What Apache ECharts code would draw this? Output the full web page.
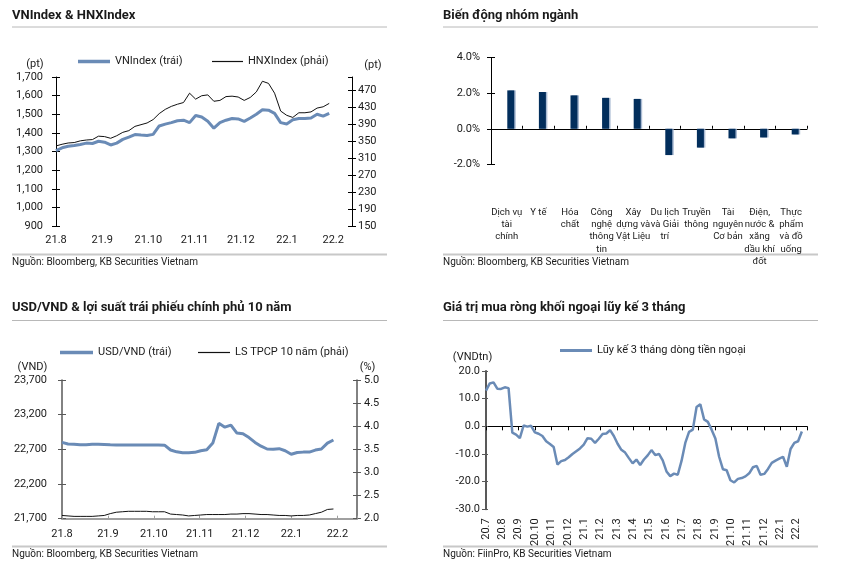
<!DOCTYPE html>
<html><head><meta charset="utf-8">
<script src="https://cdn.jsdelivr.net/npm/echarts@6/dist/echarts.min.js"></script>
<style>html,body{margin:0;padding:0;background:#fff}#c{width:845px;height:566px}</style>
</head><body><div id="c"></div>
<script>
// ---------- Panel 1: VNIndex & HNXIndex (samples every 4 days from 2021-08-01) ----------
const p1MonthLabels = ['21.8','21.9','21.10','21.11','21.12','22.1','22.2'];
const p1StepDays = 4;
const vnIndex = [1305,1320,1328,1332,1338,1345,1343,1355,1350,1335,1345,1365,1377,1391,1388,1386,1392,1437,1447,1455,1465,1468,1455,1493,1485,1462,1425,1455,1468,1477,1475,1462,1480,1500,1524,1522,1505,1455,1448,1470,1477,1477,1480,1500,1490,1505];
const hnxIndex = [338,342,345,346,350,352,353,361,360,356,362,370,374,384,388,392,400,414,424,431,436,440,462,448,456,458,443,445,454,455,453,445,452,465,490,485,462,420,410,405,416,416,418,427,430,438];

// ---------- Panel 2: sector change ----------
const sectors = ['Dịch vụ\ntài\nchính','Y tế','Hóa\nchất','Công\nnghệ\nthông\ntin','Xây\ndựng và\nVật Liệu','Du lịch\nvà Giải\ntrí','Truyền\nthông','Tài\nnguyên\nCơ bản','Điện,\nnước &\nxăng\ndầu khí\nđốt','Thực\nphẩm\nvà đồ\nuống'];
const sectorChange = [2.16,2.07,1.88,1.74,1.68,-1.48,-1.06,-0.54,-0.49,-0.32];

// ---------- Panel 3: USD/VND & 10Y bond yield (samples every 4 days from 2021-08-01) ----------
const p3MonthLabels = ['21.8','21.9','21.10','21.11','21.12','22.1','22.2'];
const p3StepDays = 4;
const usdVnd = [22800,22777,22772,22767,22765,22772,22772,22770,22765,22762,22762,22762,22762,22762,22762,22762,22762,22760,22690,22664,22652,22652,22657,22680,22695,22790,23075,23020,23050,22935,22925,22870,22800,22745,22705,22700,22710,22680,22630,22655,22660,22660,22690,22705,22790,22835];
const bondYield = [2.07,2.06,2.05,2.05,2.05,2.05,2.06,2.07,2.11,2.14,2.15,2.16,2.16,2.16,2.16,2.15,2.15,2.15,2.10,2.09,2.08,2.06,2.07,2.08,2.09,2.09,2.09,2.09,2.10,2.10,2.11,2.11,2.10,2.09,2.09,2.08,2.07,2.07,2.06,2.07,2.07,2.08,2.11,2.14,2.20,2.21];

// ---------- Panel 4: foreign net buy, 3-month cumulative (weekly from 2020-07-01) ----------
const p4MonthLabels = ['20.7','20.8','20.9','20.10','20.11','20.12','21.1','21.2','21.3','21.4','21.5','21.6','21.7','21.8','21.9','21.10','21.11','21.12','22.1','22.2'];
const p4StepDays = 7;
const foreignFlow = [12.9,15.5,15.9,13.6,13.5,14.1,13.8,-2.3,-3.0,-4.3,0.3,-0.1,0.2,-2.2,-2.7,-3.5,-5.4,-6.4,-7.5,-13.8,-12.6,-12.2,-11.2,-10.0,-9.0,-8.0,-6.6,-4.3,-4.5,-6.0,-4.5,-2.8,-2.6,-1.4,-3.5,-6.3,-8.5,-9.5,-11.5,-13.4,-12.0,-14.0,-12.0,-10.5,-8.6,-10.4,-10.0,-12.3,-16.3,-18.0,-17.1,-17.5,-12.5,-6.0,-2.0,-1.2,7.0,8.0,2.5,1.6,-1.2,-4.4,-11.0,-15.5,-15.9,-19.5,-20.3,-19.0,-18.7,-18.1,-17.0,-14.8,-14.3,-17.5,-17.2,-15.4,-13.2,-12.4,-11.7,-11.0,-14.6,-8.2,-6.0,-5.4,-1.9];

// ---------- helpers ----------
const FONT = 'Roboto, "Noto Sans", sans-serif';
const TXT = '#1a1a1a';
const BLUE = '#6a8bb6';
const DAYS_PER_MONTH = 30.4375;
const toXY = (arr, stepDays) => arr.map((v, i) => [i * stepDays / DAYS_PER_MONTH, v]);
const thousands = v => Math.round(v).toLocaleString('en-US');

function monthAxis(grid, labels, max, o) {
  return {
    type: 'value', gridIndex: grid, min: 0, max: max, interval: 1,
    splitLine: {show: false},
    axisLine: {show: o.line !== false, onZero: !!o.onZero, lineStyle: {color: o.lineColor || '#000', width: o.lineWidth || 1}},
    axisTick: {show: !!o.tick, inside: true, length: o.tickLen || 4, lineStyle: {color: o.lineColor || '#000', width: 1}},
    axisLabel: {
      show: o.label !== false, hideOverlap: false,
      margin: o.margin, rotate: o.rotate || 0, color: TXT, fontFamily: FONT, fontSize: 11,
      formatter: v => { const k = Math.round(v); return (Math.abs(v - k) < 1e-6 && labels[k] !== undefined) ? labels[k] : ''; }
    }
  };
}
function yAx(grid, pos, min, max, interval, fmt, o, ghost) {
  return {
    type: 'value', gridIndex: grid, position: pos, min: min, max: max, interval: interval,
    splitLine: {show: false},
    axisLine: {show: !ghost, onZero: false, lineStyle: {color: o.color || '#000', width: o.width || 1}},
    axisTick: {show: true, inside: !!ghost, length: o.tickLen || 4, lineStyle: {color: o.color || '#000', width: 1}},
    axisLabel: {show: !ghost, margin: o.margin, color: TXT, fontFamily: FONT, fontSize: 11, formatter: fmt, showMaxLabel: o.showMax !== false}
  };
}
function lg(name, left, top, w, h) {
  return {data: [name], left: left, top: top, padding: 0, icon: 'rect', itemWidth: w, itemHeight: h,
          itemStyle: {borderWidth: 0}, textStyle: {fontSize: 11, fontFamily: FONT, color: TXT}};
}

const p1Max = 296 / 46.2;
const p3Max = 295 / 45.9;
const p4Max = 321 / 16.35;

const chart = echarts.init(document.getElementById('c'), null, {renderer: 'canvas'});

const text = (x, y, t, o) => ({type: 'text', silent: true, style: {x: x, y: y, text: t, font: (o && o.font) || ('11px ' + FONT), fill: TXT, align: (o && o.align) || 'left', verticalAlign: 'middle', textAlign: (o && o.align) || 'left', textVerticalAlign: 'middle'}});
const rule = (x1, x2, y, w, c) => ({type: 'line', silent: true, shape: {x1: x1, y1: y, x2: x2, y2: y}, style: {stroke: c, lineWidth: w}});
const TITLE = 'bold 13px ' + FONT;
const SRC = '10px ' + FONT;

const option = {
  animation: false,
  backgroundColor: '#fff',
  textStyle: {fontFamily: FONT},
  grid: [
    {left: 56, top: 77, width: 296, height: 149, outerBoundsMode: 'none'},
    {left: 491, top: 57.7, width: 316, height: 106.6, outerBoundsMode: 'none'},
    {left: 62, top: 380, width: 295, height: 138.7, outerBoundsMode: 'none'},
    {left: 486, top: 371, width: 321, height: 138.3, outerBoundsMode: 'none'}
  ],
  legend: [
    lg('VNIndex (trái)', 78, 56, 32, 3.5),
    lg('HNXIndex (phải)', 212, 56, 31, 1.2),
    lg('USD/VND (trái)', 60, 347, 33, 3.5),
    lg('LS TPCP 10 năm (phải)', 198, 347, 32, 1.2),
    lg('Lũy kế 3 tháng dòng tiền ngoại', 560, 345, 32, 3)
  ],
  xAxis: [
    monthAxis(0, p1MonthLabels, p1Max, {line: false, tick: false, margin: 9}),
    {type: 'category', gridIndex: 1, data: sectors,
     axisLine: {onZero: true, lineStyle: {color: '#000', width: 1}},
     axisTick: {show: true, inside: true, length: 3, lineStyle: {color: '#000'}},
     axisLabel: {interval: 0, margin: 42, color: TXT, fontFamily: FONT, fontSize: 9.5, lineHeight: 12.3, verticalAlign: 'top'}},
    monthAxis(2, p3MonthLabels, p3Max, {lineColor: '#a0a0a0', lineWidth: 2, tick: true, tickLen: 3, margin: 10}),
    monthAxis(3, p4MonthLabels, p4Max, {line: false, tick: false, margin: 9, rotate: 90}),
    monthAxis(3, p4MonthLabels, p4Max, {onZero: true, tick: true, tickLen: 4, label: false})
  ],
  yAxis: [
    yAx(0, 'left', 900, 1700, 100, thousands, {margin: 13}),
    yAx(0, 'right', 150, 500, 40, v => String(v), {margin: 6, showMax: false}),
    yAx(0, 'left', 900, 1700, 100, thousands, {}, true),
    yAx(0, 'right', 150, 500, 40, v => String(v), {}, true),
    yAx(1, 'left', -2, 4, 2, v => v.toFixed(1) + '%', {margin: 11}),
    yAx(1, 'left', -2, 4, 2, v => v.toFixed(1) + '%', {}, true),
    yAx(2, 'left', 21700, 23700, 500, thousands, {margin: 15, color: '#595959', width: 1.5}),
    yAx(2, 'right', 2, 5, 0.5, v => v.toFixed(1), {margin: 7, color: '#595959', width: 1.5}),
    yAx(2, 'left', 21700, 23700, 500, thousands, {color: '#595959'}, true),
    yAx(2, 'right', 2, 5, 0.5, v => v.toFixed(1), {color: '#595959'}, true),
    yAx(3, 'left', -30, 20, 10, v => v.toFixed(1), {margin: 6, color: '#595959', width: 2}),
    yAx(3, 'left', -30, 20, 10, v => v.toFixed(1), {color: '#595959', tickLen: 2}, true)
  ],
  series: [
    {name: 'VNIndex (trái)', type: 'line', xAxisIndex: 0, yAxisIndex: 0, data: toXY(vnIndex, p1StepDays),
     symbol: 'none', lineStyle: {color: BLUE, width: 3}, itemStyle: {color: BLUE}, z: 2},
    {name: 'HNXIndex (phải)', type: 'line', xAxisIndex: 0, yAxisIndex: 1, data: toXY(hnxIndex, p1StepDays),
     symbol: 'none', lineStyle: {color: '#111', width: 1}, itemStyle: {color: '#111'}, z: 3},
    {name: '_spacer', type: 'bar', xAxisIndex: 1, yAxisIndex: 4, data: sectors.map(() => null), barWidth: 7, barGap: '14%'},
    {name: 'Biến động', type: 'bar', xAxisIndex: 1, yAxisIndex: 4, data: sectorChange, barWidth: 7, barGap: '14%',
     itemStyle: {color: '#022e5c', shadowColor: 'rgba(150,170,200,0.8)', shadowOffsetX: 1.5, shadowBlur: 0}},
    {name: 'USD/VND (trái)', type: 'line', xAxisIndex: 2, yAxisIndex: 6, data: toXY(usdVnd, p3StepDays),
     symbol: 'none', lineStyle: {color: BLUE, width: 3}, itemStyle: {color: BLUE}, z: 2},
    {name: 'LS TPCP 10 năm (phải)', type: 'line', xAxisIndex: 2, yAxisIndex: 7, data: toXY(bondYield, p3StepDays),
     symbol: 'none', lineStyle: {color: '#111', width: 1}, itemStyle: {color: '#111'}, z: 3},
    {name: 'Lũy kế 3 tháng dòng tiền ngoại', type: 'line', xAxisIndex: 3, yAxisIndex: 10, data: toXY(foreignFlow, p4StepDays),
     symbol: 'none', lineStyle: {color: BLUE, width: 2.5}, itemStyle: {color: BLUE}, z: 2}
  ],
  graphic: [
    text(12, 16, 'VNIndex & HNXIndex', {font: TITLE}),
    text(443, 16, 'Biến động nhóm ngành', {font: TITLE}),
    text(12, 308, 'USD/VND & lợi suất trái phiếu chính phủ 10 năm', {font: TITLE}),
    text(443, 308, 'Giá trị mua ròng khối ngoại lũy kế 3 tháng', {font: TITLE}),
    rule(12, 387, 27, 1, '#b8b8b8'),
    rule(443, 818, 27, 1, '#b8b8b8'),
    rule(12, 387, 320.5, 1, '#b8b8b8'),
    rule(443, 818, 320.5, 1, '#b8b8b8'),
    rule(12, 387, 254.5, 2, '#c8c8c8'),
    rule(443, 818, 254.5, 2, '#c8c8c8'),
    rule(12, 387, 546.5, 2, '#c8c8c8'),
    rule(443, 818, 546.5, 2, '#c8c8c8'),
    text(12, 262, 'Nguồn: Bloomberg, KB Securities Vietnam', {font: SRC}),
    text(443, 262, 'Nguồn: Bloomberg, KB Securities Vietnam', {font: SRC}),
    text(12, 554, 'Nguồn: Bloomberg, KB Securities Vietnam', {font: SRC}),
    text(443, 554, 'Nguồn: FiinPro, KB Securities Vietnam', {font: SRC}),
    text(35, 64, '(pt)', {align: 'center'}),
    text(373, 65, '(pt)', {align: 'center'}),
    text(32.5, 367, '(VND)', {align: 'center'}),
    text(367.5, 367, '(%)', {align: 'center'}),
    text(472.5, 357, '(VNDtn)', {align: 'center'})
  ]
};
chart.setOption(option);
</script>
</body></html>
